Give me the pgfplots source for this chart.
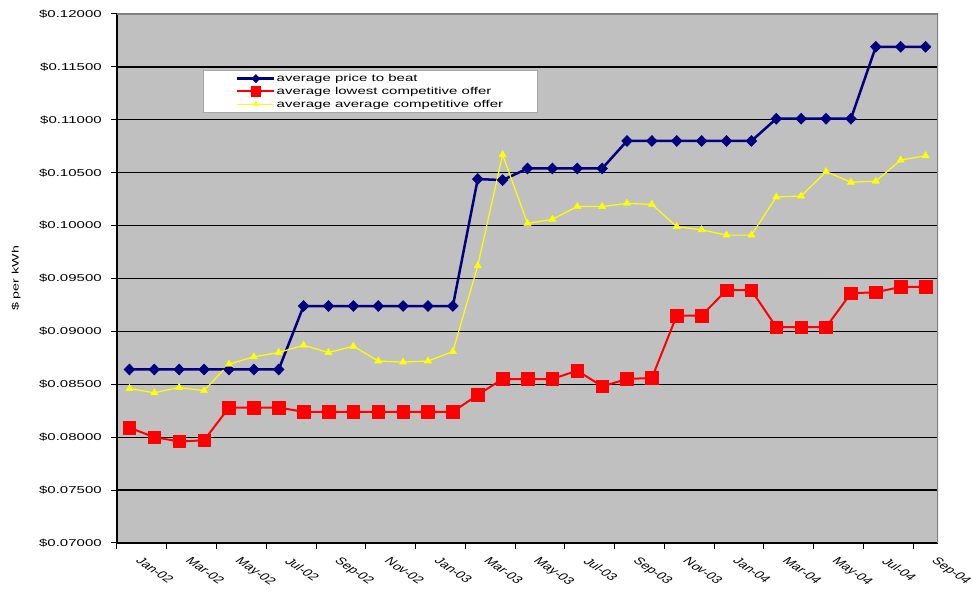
\documentclass[border=0pt]{standalone}
\usepackage{fontspec}
\setmainfont{Liberation Sans}
\usepackage{pgfplots}
\usepackage{pgfplotstable}
\pgfplotsset{compat=1.18}
\definecolor{plotgray}{RGB}{192,192,192}
\definecolor{navyblue}{RGB}{0,0,128}
\definecolor{ptbred}{RGB}{255,0,0}
\definecolor{offeryellow}{RGB}{255,255,0}

% monthly averages, Jan-02 (0) .. Sep-04 (32)
\pgfplotstableread{
idx ptb    low    avg
0   0.0864 0.0809 0.0846
1   0.0864 0.0800 0.0842
2   0.0864 0.0796 0.0847
3   0.0864 0.0797 0.0844
4   0.0864 0.0828 0.0869
5   0.0864 0.0828 0.0876
6   0.0864 0.0828 0.0880
7   0.0924 0.0824 0.0887
8   0.0924 0.0824 0.0880
9   0.0924 0.0824 0.0886
10  0.0924 0.0824 0.0872
11  0.0924 0.0824 0.0871
12  0.0924 0.0824 0.0872
13  0.0924 0.0824 0.0881
14  0.1044 0.0840 0.0962
15  0.1043 0.0855 0.1067
16  0.1054 0.0855 0.1002
17  0.1054 0.0855 0.1006
18  0.1054 0.0863 0.1018
19  0.1054 0.0848 0.1018
20  0.1080 0.0855 0.1021
21  0.1080 0.0856 0.1020
22  0.1080 0.0915 0.0999
23  0.1080 0.0915 0.0996
24  0.1080 0.0939 0.0991
25  0.1080 0.0939 0.0991
26  0.1101 0.0904 0.1027
27  0.1101 0.0904 0.1028
28  0.1101 0.0904 0.1051
29  0.1101 0.0936 0.1041
30  0.1169 0.0937 0.1042
31  0.1169 0.0942 0.1062
32  0.1169 0.0942 0.1066
}\prices

\newcommand{\wide}[1]{\scalebox{1.5}[1]{#1}}

\begin{document}
\begin{tikzpicture}
\begin{axis}[
    name=ax,
    scale only axis,
    width=821pt, height=529pt,
    xmin=-0.5, xmax=32.5,
    ymin=0.07, ymax=0.12,
    axis background/.style={fill=plotgray},
    axis x line=bottom, axis y line=left,
    axis line style={-, black, line width=1.5pt},
    tick align=outside,
    major tick length=6pt,
    tick style={black, line width=1pt},
    ytick={0.07,0.075,0.08,0.085,0.09,0.095,0.1,0.105,0.11,0.115,0.12},
    yticklabels={\$0.07000,\$0.07500,\$0.08000,\$0.08500,\$0.09000,\$0.09500,\$0.10000,\$0.10500,\$0.11000,\$0.11500,\$0.12000},
    y tick label style={font=\fontsize{10}{12}\selectfont, xshift=-4pt, xscale=1.5, anchor=east},
    ymajorgrids,
    grid style={black, line width=1.3pt},
    xtick={-0.5,1.5,...,31.5},
    xticklabels={},
    extra x ticks={0,2,...,32},
    extra x tick labels={Jan-02,Mar-02,May-02,Jul-02,Sep-02,Nov-02,Jan-03,Mar-03,May-03,Jul-03,Sep-03,Nov-03,Jan-04,Mar-04,May-04,Jul-04,Sep-04},
    extra x tick style={tick style={draw=none}},
    x tick label style={font=\fontsize{10}{12}\selectfont, xshift=13pt, yshift=-3pt, xscale=1.5, rotate=-45, anchor=north west},
    ylabel={\wide{\fontsize{9.5}{11}\selectfont \$ per kWh}},
    ylabel style={at={(rel axis cs:0,0.5)}, anchor=center, yshift=101pt},
    legend cell align=left,
    legend style={at={(rel axis cs:0.1047,0.894)}, anchor=north west,
        draw=black!35, fill=white, inner xsep=33pt, inner ysep=3pt,
        row sep=2pt, font=\fontsize{10}{11}\selectfont,
        nodes={inner xsep=1pt, inner ysep=1pt}},
    legend image code/.code={
        \draw[mark repeat=2, mark phase=2, #1, every mark/.append style={scale=0.75}] plot coordinates {(0pt,0pt) (18.5pt,0pt) (37pt,0pt)};},
]
\addplot[navyblue, line width=2.5pt, mark=diamond*, mark size=5.5pt, mark options={solid, xscale=1.3, line width=0.5pt}]
    table[x=idx, y=ptb] {\prices};
\addlegendentry{\wide{average price to beat}}
\addplot[ptbred, line width=2pt, mark=square*, mark size=6.3pt, mark options={solid, line width=0.5pt}]
    table[x=idx, y=low] {\prices};
\addlegendentry{\wide{average lowest competitive offer}}
\addplot[offeryellow, line width=1.2pt, mark=triangle*, mark size=4.2pt, mark options={solid, line width=0.4pt}]
    table[x=idx, y=avg] {\prices};
\addlegendentry{\wide{average average competitive offer}}
\draw[black!50, line width=1.5pt] (rel axis cs:0,1) -- (rel axis cs:1,1) -- (rel axis cs:1,0);
\end{axis}
\pgfresetboundingbox
\path[use as bounding box] ([xshift=-117pt,yshift=-56pt]ax.south west) rectangle ([xshift=34pt,yshift=14pt]ax.north east);
\end{tikzpicture}
\end{document}
